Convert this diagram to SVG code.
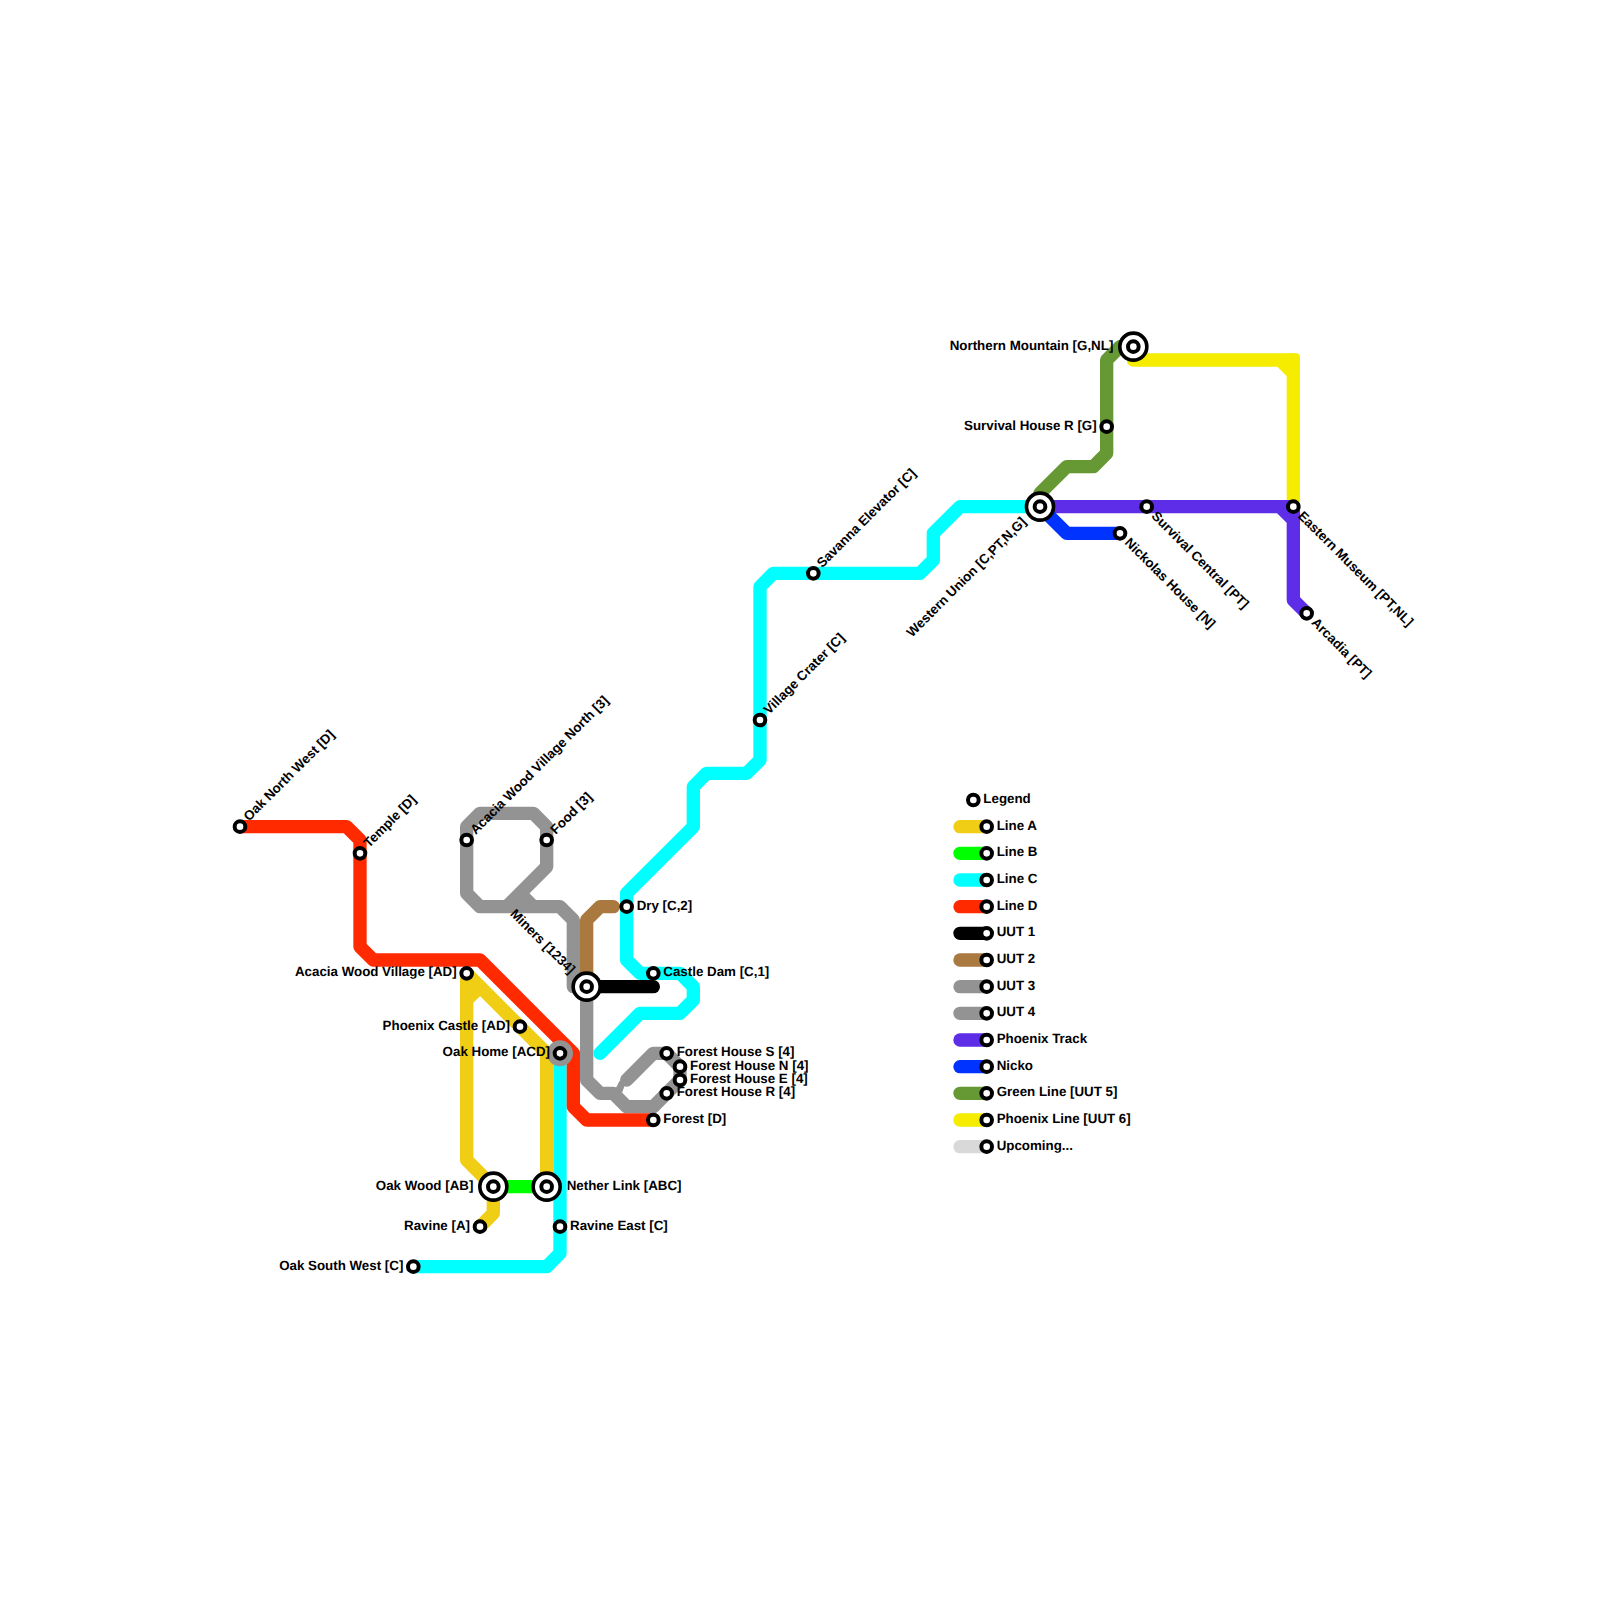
<svg xmlns="http://www.w3.org/2000/svg" width="1600" height="1600" viewBox="0 0 1600 1600">
<style>
.l{fill:none;stroke-width:1;stroke-linecap:round;stroke-linejoin:round}
.k{fill:none;stroke-width:13.33;stroke-linecap:round}
.s{fill:#fff;stroke:#000;stroke-width:4}
.i{fill:#fff;stroke:#000;stroke-width:3.6}
text{font-family:"Liberation Sans",Arial,sans-serif;font-weight:bold;font-size:13.33px;fill:#000;text-rendering:geometricPrecision}
.e{text-anchor:end}
</style>
<defs>
<circle id="st" class="s" r="5.33"/>
<g id="ix"><circle r="13.5" class="i"/><circle class="s" r="5.33"/></g>
</defs>
<rect width="1600" height="1600" fill="#fff"/>
<g id="connectors" transform="scale(13.33333)">
<path id="uut3" class="l" stroke="#939393" d="M44 74H43V69L42 68H36L35 67V62L36 61H40L41 62V65L38 68M39 67L40 68"/>
<path id="uut4" class="l" stroke="#939393" d="M44 74V81L45 82H46L47 83H49L50 82L51 81V80L50 79H49L47 81"/>
<path id="uut4-fill" fill="#939393" d="M46.24 81.5L46.47 81.05L47 81L46.67 81.92L46 82Z"/>
<path id="lineA" class="l" stroke="#f0ce15" d="M36 92L37 91V89L35 87V73L41 79V89M36 74L35 75"/>
<path id="lineC" class="l" stroke="#00ffff" d="M31 95H41L42 94V79M45 79L48 76H51L52 75V74L51 73H48L47 72V67L52 62V59L53 58H56L57 57V44L58 43H69L70 42V40L72 38H78"/>
<path id="lineD" class="l" stroke="#ff2a00" d="M18 62H26L27 63V71L28 72H36L43 79V83L44 84H49"/>
<path id="lineB" class="l" stroke="#00ff00" d="M37 89H41"/>
<path id="uut2" class="l" stroke="#a9793f" d="M44 74V69L45 68H46"/>
<path id="uut1" class="l" stroke="#000" d="M44 74H49"/>
<path id="green" class="l" stroke="#669933" d="M78 38V37L80 35H82L83 34V27L84 26H85"/>
<path id="yellow" class="l" stroke="#f5ec00" d="M85 26V27H97V38M96 27L97 28"/>
<rect id="yellow-corner" x="96.5" y="26.5" width="1" height="1" rx=".3" fill="#f5ec00"/>
<path id="phoenix" class="l" stroke="#5e2de8" d="M78 38H97V45L98 46M96 38L97 39"/>
<path id="nicko" class="l" stroke="#0033ff" d="M78 38L80 40H84"/>
</g>
<g id="oak-home-halo"><circle cx="560" cy="1053.33" r="13" fill="#939393"/></g>
<g id="n-oak-north-west" transform="translate(240,826.67)"><use href="#st"/><text transform="translate(9,-5) rotate(-45)">Oak North West [D]</text></g>
<g id="n-temple" transform="translate(360,853.33)"><use href="#st"/><text transform="translate(9,-5) rotate(-45)">Temple [D]</text></g>
<g id="n-acacia-village" transform="translate(466.67,973.33)"><use href="#st"/><text class="e" x="-10" y="3">Acacia Wood Village [AD]</text></g>
<g id="n-acacia-north" transform="translate(466.67,840)"><use href="#st"/><text transform="translate(9,-5) rotate(-45)">Acacia Wood Village North [3]</text></g>
<g id="n-food" transform="translate(546.67,840)"><use href="#st"/><text transform="translate(9,-5) rotate(-45)">Food [3]</text></g>
<g id="n-miners" transform="translate(586.67,986.67)"><use href="#ix"/><text class="e" transform="translate(-17,-12) rotate(45)">Miners [1234]</text></g>
<g id="n-dry" transform="translate(626.67,906.67)"><use href="#st"/><text x="10" y="3">Dry [C,2]</text></g>
<g id="n-castle-dam" transform="translate(653.33,973.33)"><use href="#st"/><text x="10" y="3">Castle Dam [C,1]</text></g>
<g id="n-phoenix-castle" transform="translate(520,1026.67)"><use href="#st"/><text class="e" x="-10" y="3">Phoenix Castle [AD]</text></g>
<g id="n-oak-home" transform="translate(560,1053.33)"><use href="#st"/><text class="e" x="-10" y="3">Oak Home [ACD]</text></g>
<g id="n-forest-s" transform="translate(666.67,1053.33)"><use href="#st"/><text x="10" y="3">Forest House S [4]</text></g>
<g id="n-forest-n" transform="translate(680,1066.67)"><use href="#st"/><text x="10" y="3">Forest House N [4]</text></g>
<g id="n-forest-e" transform="translate(680,1080)"><use href="#st"/><text x="10" y="3">Forest House E [4]</text></g>
<g id="n-forest-r" transform="translate(666.67,1093.33)"><use href="#st"/><text x="10" y="3">Forest House R [4]</text></g>
<g id="n-forest" transform="translate(653.33,1120)"><use href="#st"/><text x="10" y="3">Forest [D]</text></g>
<g id="n-oak-wood" transform="translate(493.33,1186.67)"><use href="#ix"/><text class="e" x="-20" y="3">Oak Wood [AB]</text></g>
<g id="n-nether-link" transform="translate(546.67,1186.67)"><use href="#ix"/><text x="20" y="3">Nether Link [ABC]</text></g>
<g id="n-ravine" transform="translate(480,1226.67)"><use href="#st"/><text class="e" x="-10" y="3">Ravine [A]</text></g>
<g id="n-ravine-east" transform="translate(560,1226.67)"><use href="#st"/><text x="10" y="3">Ravine East [C]</text></g>
<g id="n-oak-south-west" transform="translate(413.33,1266.67)"><use href="#st"/><text class="e" x="-10" y="3">Oak South West [C]</text></g>
<g id="n-village-crater" transform="translate(760,720)"><use href="#st"/><text transform="translate(9,-5) rotate(-45)">Village Crater [C]</text></g>
<g id="n-savanna" transform="translate(813.33,573.33)"><use href="#st"/><text transform="translate(9,-5) rotate(-45)">Savanna Elevator [C]</text></g>
<g id="n-western-union" transform="translate(1040,506.67)"><use href="#ix"/><text class="e" transform="translate(-13,16) rotate(-45)">Western Union [C,PT,N,G]</text></g>
<g id="n-northern-mountain" transform="translate(1133.33,346.67)"><use href="#ix"/><text class="e" x="-20" y="3">Northern Mountain [G,NL]</text></g>
<g id="n-survival-r" transform="translate(1106.67,426.67)"><use href="#st"/><text class="e" x="-10" y="3">Survival House R [G]</text></g>
<g id="n-survival-central" transform="translate(1146.67,506.67)"><use href="#st"/><text transform="translate(4,10) rotate(45)">Survival Central [PT]</text></g>
<g id="n-nickolas" transform="translate(1120,533.33)"><use href="#st"/><text transform="translate(4,10) rotate(45)">Nickolas House [N]</text></g>
<g id="n-eastern-museum" transform="translate(1293.33,506.67)"><use href="#st"/><text transform="translate(4,10) rotate(45)">Eastern Museum [PT,NL]</text></g>
<g id="n-arcadia" transform="translate(1306.67,613.33)"><use href="#st"/><text transform="translate(4,10) rotate(45)">Arcadia [PT]</text></g>
<g id="legend">
<g id="lg-title" transform="translate(973.33,800)"><use href="#st"/><text x="10" y="3">Legend</text></g>
<g transform="translate(986.67,826.67)"><path class="k" stroke="#f0ce15" d="M-26.67 0H0"/><use href="#st"/><text x="10" y="3">Line A</text></g>
<g transform="translate(986.67,853.33)"><path class="k" stroke="#00ff00" d="M-26.67 0H0"/><use href="#st"/><text x="10" y="3">Line B</text></g>
<g transform="translate(986.67,880)"><path class="k" stroke="#00ffff" d="M-26.67 0H0"/><use href="#st"/><text x="10" y="3">Line C</text></g>
<g transform="translate(986.67,906.67)"><path class="k" stroke="#ff2a00" d="M-26.67 0H0"/><use href="#st"/><text x="10" y="3">Line D</text></g>
<g transform="translate(986.67,933.33)"><path class="k" stroke="#000" d="M-26.67 0H0"/><use href="#st"/><text x="10" y="3">UUT 1</text></g>
<g transform="translate(986.67,960)"><path class="k" stroke="#a9793f" d="M-26.67 0H0"/><use href="#st"/><text x="10" y="3">UUT 2</text></g>
<g transform="translate(986.67,986.67)"><path class="k" stroke="#939393" d="M-26.67 0H0"/><use href="#st"/><text x="10" y="3">UUT 3</text></g>
<g transform="translate(986.67,1013.33)"><path class="k" stroke="#939393" d="M-26.67 0H0"/><use href="#st"/><text x="10" y="3">UUT 4</text></g>
<g transform="translate(986.67,1040)"><path class="k" stroke="#5e2de8" d="M-26.67 0H0"/><use href="#st"/><text x="10" y="3">Phoenix Track</text></g>
<g transform="translate(986.67,1066.67)"><path class="k" stroke="#0033ff" d="M-26.67 0H0"/><use href="#st"/><text x="10" y="3">Nicko</text></g>
<g transform="translate(986.67,1093.33)"><path class="k" stroke="#669933" d="M-26.67 0H0"/><use href="#st"/><text x="10" y="3">Green Line [UUT 5]</text></g>
<g transform="translate(986.67,1120)"><path class="k" stroke="#f5ec00" d="M-26.67 0H0"/><use href="#st"/><text x="10" y="3">Phoenix Line [UUT 6]</text></g>
<g transform="translate(986.67,1146.67)"><path class="k" stroke="#d9d9d9" d="M-26.67 0H0"/><use href="#st"/><text x="10" y="3">Upcoming...</text></g>
</g>
</svg>
